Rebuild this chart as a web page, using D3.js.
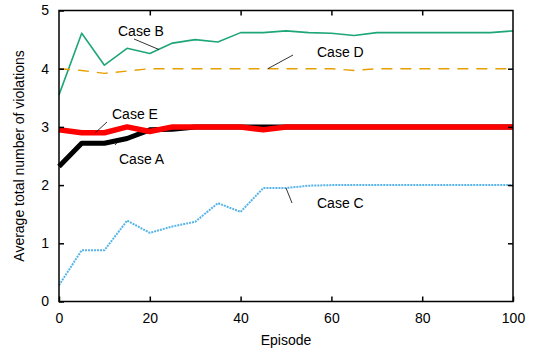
<!DOCTYPE html>
<html>
<head>
<meta charset="utf-8">
<script src="https://cdn.jsdelivr.net/npm/d3@7"></script>
<style>
  body { margin: 0; background: #fff; }
  text { font-family: "Liberation Sans", Arial, sans-serif; }
</style>
</head>
<body>
<div id="container"></div>
<script>
// episodes sampled every 5
const episodes = [0, 5, 10, 15, 20, 25, 30, 35, 40, 45, 50, 55, 60, 65, 70, 75, 80, 85, 90, 95, 100];

const caseA = [2.32, 2.72, 2.72, 2.8, 2.95, 2.96, 3.0, 3.0, 3.0, 3.0, 3.0, 3.0, 3.0, 3.0, 3.0, 3.0, 3.0, 3.0, 3.0, 3.0, 3.0];
const caseB = [3.55, 4.61, 4.06, 4.35, 4.26, 4.44, 4.5, 4.46, 4.62, 4.62, 4.65, 4.62, 4.61, 4.57, 4.62, 4.62, 4.62, 4.62, 4.62, 4.62, 4.65];
const caseC = [0.28, 0.88, 0.88, 1.39, 1.18, 1.29, 1.37, 1.69, 1.54, 1.95, 1.95, 1.99, 2.0, 2.0, 2.0, 2.0, 2.0, 2.0, 2.0, 2.0, 2.0];
const caseD = [4.0, 3.97, 3.92, 3.96, 4.0, 4.0, 4.0, 4.0, 4.0, 4.0, 4.0, 4.0, 4.0, 3.97, 4.0, 4.0, 4.0, 4.0, 4.0, 4.0, 4.0];
const caseE = [2.95, 2.9, 2.9, 3.0, 2.92, 3.0, 3.0, 3.0, 3.0, 2.95, 3.0, 3.0, 3.0, 3.0, 3.0, 3.0, 3.0, 3.0, 3.0, 3.0, 3.0];

const xTicks = [0, 20, 40, 60, 80, 100];
const yTicks = [0, 1, 2, 3, 4, 5];

const W = 543, H = 352;
const pLeft = 59, pRight = 513, pTop = 10.5, pBottom = 301.5;

const x = d3.scaleLinear().domain([0, 100]).range([pLeft, pRight]);
const y = d3.scaleLinear().domain([0, 5]).range([pBottom, pTop]);

const svg = d3.select('#container').append('svg')
    .attr('width', W)
    .attr('height', H);

const line = d3.line()
    .x((d, i) => x(episodes[i]))
    .y(d => y(d));

// series, black under red
const series = [
    { values: caseB, color: '#1fa57a', width: 1.6, dash: null },
    { values: caseD, color: '#e69f00', width: 1.4, dash: '11,8' },
    { values: caseC, color: '#56b4e9', width: 2, dash: '2,1' },
    { values: caseA, color: '#000000', width: 5, dash: null },
    { values: caseE, color: '#ff0000', width: 5.5, dash: null },
];

svg.append('g')
    .selectAll('path')
    .data(series)
    .enter()
    .append('path')
        .attr('d', d => line(d.values))
        .attr('fill', 'none')
        .attr('stroke', d => d.color)
        .attr('stroke-width', d => d.width)
        .attr('stroke-dasharray', d => d.dash)
        .attr('stroke-linejoin', 'round');

// frame
svg.append('rect')
    .attr('x', pLeft)
    .attr('y', pTop)
    .attr('width', pRight - pLeft)
    .attr('height', pBottom - pTop)
    .attr('fill', 'none')
    .attr('stroke', '#000')
    .attr('stroke-width', 1.5);

// axes with inward ticks (mirrored)
const tickStyle = g => {
    g.select('.domain').remove();
    g.selectAll('.tick line').attr('stroke', '#000').attr('stroke-width', 1.5);
    g.selectAll('.tick text').attr('font-size', 14).attr('fill', '#000');
};

svg.append('g')
    .attr('transform', `translate(0,${pBottom})`)
    .call(d3.axisBottom(x).tickValues(xTicks).tickSize(-5).tickPadding(12).tickFormat(d3.format('d')))
    .call(tickStyle);
svg.append('g')
    .attr('transform', `translate(0,${pTop})`)
    .call(d3.axisTop(x).tickValues(xTicks.slice(1, -1)).tickSize(-5).tickFormat(''))
    .call(tickStyle);
svg.append('g')
    .attr('transform', `translate(${pLeft},0)`)
    .call(d3.axisLeft(y).tickValues(yTicks).tickSize(-5).tickPadding(10).tickFormat(d3.format('d')))
    .call(tickStyle);
svg.append('g')
    .attr('transform', `translate(${pRight},0)`)
    .call(d3.axisRight(y).tickValues(yTicks.slice(1, -1)).tickSize(-5).tickFormat(''))
    .call(tickStyle);

// axis titles
svg.append('text')
    .attr('x', (pLeft + pRight) / 2)
    .attr('y', 345)
    .attr('text-anchor', 'middle')
    .attr('font-size', 14)
    .text('Episode');

svg.append('text')
    .attr('transform', `translate(24,${(pTop + pBottom) / 2}) rotate(-90)`)
    .attr('text-anchor', 'middle')
    .attr('font-size', 14)
    .text('Average total number of violations');

// case labels with leader lines
const labels = [
    { name: 'Case B', tx: 118, ty: 36, x1: 134, y1: 39, ep: 22, v: 4.33 },
    { name: 'Case D', tx: 317, ty: 57, x1: 293, y1: 55, ep: 46, v: caseD[9] },
    { name: 'Case E', tx: 112, ty: 119, x1: 107, y1: 122, ep: 8, v: caseE[2] },
    { name: 'Case A', tx: 119, ty: 164, x1: 115, y1: 145, ep: 13, v: caseA[3] - 0.05 },
    { name: 'Case C', tx: 317, ty: 208, x1: 292, y1: 203, ep: 50, v: caseC[10] },
];

const lab = svg.append('g');
lab.selectAll('line')
    .data(labels)
    .enter()
    .append('line')
        .attr('x1', d => d.x1)
        .attr('y1', d => d.y1)
        .attr('x2', d => x(d.ep))
        .attr('y2', d => y(d.v))
        .attr('stroke', '#000')
        .attr('stroke-width', 0.8);
lab.selectAll('text')
    .data(labels)
    .enter()
    .append('text')
        .attr('x', d => d.tx)
        .attr('y', d => d.ty)
        .attr('font-size', 14)
        .text(d => d.name);
</script>
</body>
</html>
